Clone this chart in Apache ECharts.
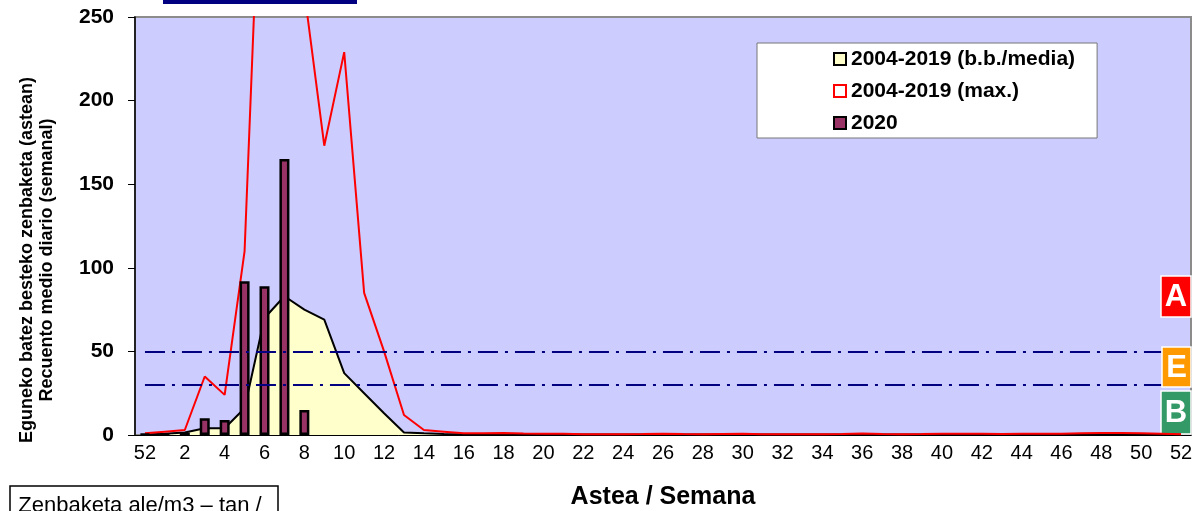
<!DOCTYPE html>
<html><head><meta charset="utf-8">
<script src="https://cdn.jsdelivr.net/npm/echarts@6/dist/echarts.min.js"></script>
<style>html,body{margin:0;padding:0;background:#fff}#c{width:1199px;height:511px}</style>
</head><body><div id="c"></div>
<script>
// Categories: previous year's week 52, then weeks 1..52
const weeks = ['52','1','2','3','4','5','6','7','8','9','10','11','12','13','14','15','16','17','18','19','20','21','22','23','24','25','26','27','28','29','30','31','32','33','34','35','36','37','38','39','40','41','42','43','44','45','46','47','48','49','50','51','52'];
// 2004-2019 (b.b./media)
const meanVals = [0.3,0.8,1.5,4,4,16,70,83,75,69,37,25,13,1.5,1,0.6,0.4,
  0.3,0.3,0.3,0.3,0.3,0.3,0.3,0.3,0.3,0.3,0.3,0.3,0.3,0.3,0.3,0.3,0.3,0.3,
  0.3,0.3,0.3,0.3,0.3,0.3,0.3,0.3,0.3,0.3,0.3,0.3,0.3,0.3,0.3,0.3,0.3,0.3];
// 2004-2019 (max.)
const maxVals = [1,2,3,35,24,110,410,320,265,173,229,85,50,12,3,2,1,
  1,1.2,0.9,0.8,0.7,0.5,0.5,0.5,0.6,0.8,0.6,0.5,0.6,0.7,0.5,0.5,0.5,0.5,
  0.6,0.9,0.6,0.5,0.6,0.8,0.8,0.7,0.6,0.8,0.7,0.8,1,1.2,1.2,1,0.8,0.5];
// 2020
const vals2020 = [0.5,0.5,1.5,10,9,92,89,165,15,null,null,null,null,null,null,null,null,
  null,null,null,null,null,null,null,null,null,null,null,null,null,null,null,null,null,null,
  null,null,null,null,null,null,null,null,null,null,null,null,null,null,null,null,null,null];
const yTicks = [0,50,100,150,200,250];
const thresholdHigh = 50;
const thresholdLow = 30;
const seriesNames = ['2004-2019 (b.b./media)','2004-2019 (max.)','2020'];

const FONT = 'Liberation Sans, Arial, sans-serif';
const chart = echarts.init(document.getElementById('c'));

function levelBox(x, y, w, h, color, letter){
  return {type:'group', children:[
    {type:'rect', shape:{x:x,y:y,width:w,height:h}, style:{fill:color, stroke:'#fff', lineWidth:1.5}},
    {type:'text', x:x+w/2, y:y+h/2+1, style:{text:letter, fill:'#fff', font:'bold 31px '+FONT, textAlign:'center', textVerticalAlign:'middle'}}
  ]};
}

chart.setOption({
  animation:false,
  textStyle:{fontFamily:FONT},
  grid:{left:135, right:8, top:17, bottom:76, outerBoundsMode:'none', containLabel:false,
    show:true, backgroundColor:'#CCCCFF', borderColor:'#8c8c8c', borderWidth:2},
  legend:{
    orient:'vertical', left:757, top:43,
    backgroundColor:'#fff', borderColor:'#777', borderWidth:1,
    padding:[4,22,3,76], itemGap:8, itemWidth:12, itemHeight:12,
    textStyle:{fontSize:21, fontWeight:'bold', color:'#000', fontFamily:FONT, lineHeight:24},
    data:[
      {name:seriesNames[0], icon:'rect', itemStyle:{color:'#FFFFCC', borderColor:'#000', borderWidth:2}},
      {name:seriesNames[1], icon:'rect', itemStyle:{color:'#fff', borderColor:'#FF0000', borderWidth:2}},
      {name:seriesNames[2], icon:'rect', itemStyle:{color:'#993366', borderColor:'#000', borderWidth:2}}
    ]
  },
  xAxis:{
    type:'category', data:weeks, boundaryGap:true,
    axisLine:{lineStyle:{color:'#000', width:1}},
    axisTick:{interval:0, length:6, lineStyle:{color:'#000'}},
    axisLabel:{interval:1, fontSize:20, color:'#000', margin:8, fontFamily:FONT},
    name:'Astea / Semana', nameLocation:'middle', nameGap:50,
    nameTextStyle:{fontSize:25, fontWeight:'bold', color:'#000', fontFamily:FONT}
  },
  yAxis:{
    type:'value', min:yTicks[0], max:yTicks[yTicks.length-1], interval:50,
    axisLine:{show:true, lineStyle:{color:'#000', width:1.5}},
    axisTick:{show:true, length:7, lineStyle:{color:'#000'}},
    axisLabel:{fontSize:21, fontWeight:'bold', color:'#000', margin:21, fontFamily:FONT},
    splitLine:{show:false}
  },
  series:[
    {
      name:seriesNames[0], type:'line', data:meanVals, symbol:'none', z:2,
      lineStyle:{color:'#000', width:2}, itemStyle:{color:'#FFFFCC'},
      areaStyle:{color:'#FFFFCC', opacity:1},
      markLine:{
        symbol:'none', silent:true, z:6,
        label:{show:false},
        lineStyle:{color:'#000080', width:2, type:[20,7,3,7]},
        data:[
          [{coord:[0,thresholdHigh]},{coord:[51,thresholdHigh]}],
          [{coord:[0,thresholdLow]},{coord:[51,thresholdLow]}]
        ]
      }
    },
    {
      name:seriesNames[1], type:'line', data:maxVals, symbol:'none', z:3,
      lineStyle:{color:'#FF0000', width:2}, itemStyle:{color:'#FF0000'}
    },
    {
      name:seriesNames[2], type:'bar', data:vals2020, barWidth:10, z:4,
      itemStyle:{color:'#993366', borderColor:'#000', borderWidth:2.5}
    }
  ],
  graphic:[
    {type:'rect', shape:{x:163,y:0,width:194,height:4}, style:{fill:'#000080'}},
    {type:'text', x:37, y:260, rotation:Math.PI/2,
      style:{text:'Eguneko batez besteko zenbaketa (astean)\nRecuento medio diario (semanal)', font:'bold 18px '+FONT, fill:'#000', textAlign:'center', textVerticalAlign:'middle', lineHeight:20}},
    {type:'rect', shape:{x:10,y:486,width:268,height:40}, style:{fill:'#fff', stroke:'#000', lineWidth:1.5}},
    {type:'text', x:140, y:506, style:{text:'Zenbaketa ale/m3 – tan /', font:'22px '+FONT, fill:'#000', textAlign:'center', textVerticalAlign:'middle'}},
    levelBox(1161,276,30,41,'#FF0000','A'),
    levelBox(1162,347,29,40,'#FF9900','E'),
    levelBox(1161,391,30,43,'#339966','B')
  ]
});
</script>
</body></html>
